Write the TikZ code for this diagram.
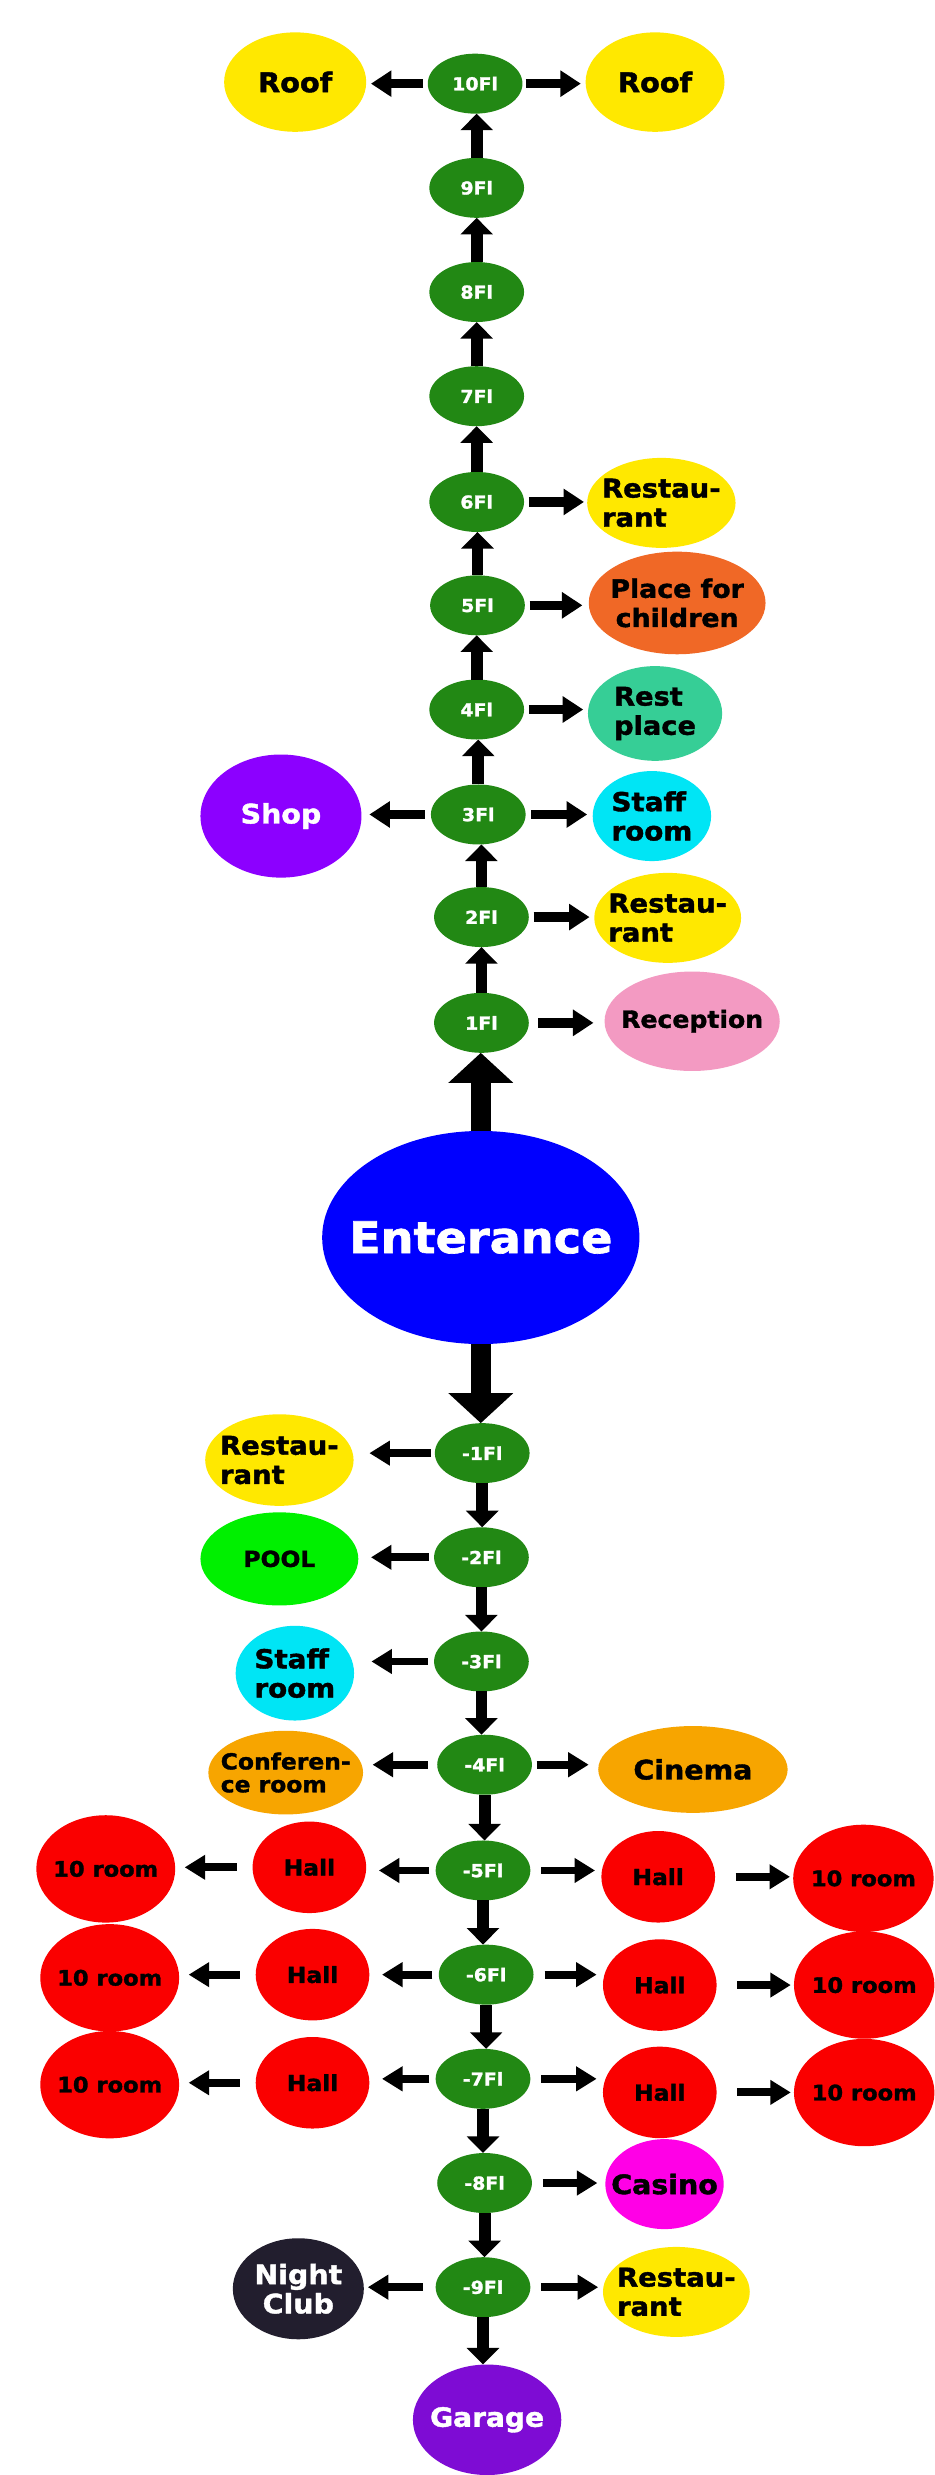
\documentclass[tikz,border=0pt]{standalone}
\usepackage{fontspec}
\newfontfamily\lbl{DejaVu Sans}[FakeStretch=1.06, FakeBold=1.5]
\usetikzlibrary{shapes.geometric,arrows.meta}
\definecolor{flgreen}{RGB}{34,136,20}
\definecolor{cyel}{RGB}{255,232,0}
\definecolor{corange}{RGB}{240,104,38}
\definecolor{cmint}{RGB}{54,206,150}
\definecolor{cviolet}{RGB}{140,0,255}
\definecolor{ccyan}{RGB}{0,229,245}
\definecolor{cpink}{RGB}{243,154,194}
\definecolor{cblue}{RGB}{0,0,255}
\definecolor{clime}{RGB}{0,240,0}
\definecolor{camber}{RGB}{247,165,0}
\definecolor{cred}{RGB}{250,0,0}
\definecolor{cmagenta}{RGB}{255,0,230}
\definecolor{cnight}{RGB}{34,30,46}
\definecolor{cgarage}{RGB}{126,12,212}
\begin{document}
\begin{tikzpicture}[x=1pt,y=-1pt,
  bub/.style={ellipse, inner sep=0pt, outer sep=0pt},
  tx/.style={font=\lbl\bfseries\fontsize{#1}{18.5}\selectfont, inner sep=0pt, align=center, text=black},
  txl/.style={font=\lbl\bfseries\fontsize{#1}{18.5}\selectfont, inner sep=0pt, align=left, text=black},
  fl/.style={bub, fill=flgreen, text=white, minimum width=60pt, minimum height=38pt,
             font=\lbl\bfseries\fontsize{11.3}{12}\selectfont},
  varr/.style={line width=7.5pt, -{Triangle[width=20pt,length=10.5pt]}},
  harr/.style={line width=6pt, -{Triangle[width=16pt,length=13pt]}},
  larr/.style={line width=5pt, -{Triangle[width=15pt,length=13pt]}},
  big/.style={line width=12.7pt, -{Triangle[width=40pt,length=19pt]}}]
\useasboundingbox[fill=white] (0,0) rectangle (592,1568);

% floors above
\node[fl] (n10) at (301,53) {10Fl};
\node[fl] (n9) at (302,119) {9Fl};
\node[fl] (n8) at (302,185) {8Fl};
\node[fl] (n7) at (302,251) {7Fl};
\node[fl] (n6) at (302,318) {6Fl};
\node[fl] (n5) at (302.5,383.5) {5Fl};
\node[fl] (n4) at (302,449.5) {4Fl};
\node[fl] (n3) at (303,516) {3Fl};
\node[fl] (n2) at (305,581) {2Fl};
\node[fl] (n1) at (305,648) {1Fl};

% entrance
\node[bub, fill=cblue, minimum width=201pt, minimum height=135pt,
      label={[tx=27.6, text=white]center:Enterance}] (ent) at (304.6,784) {};

% floors below
\node[fl] (m1) at (305.5,920.6) {-1Fl};
\node[fl] (m2) at (305,986.6) {-2Fl};
\node[fl] (m3) at (305,1052.6) {-3Fl};
\node[fl] (m4) at (307,1118) {-4Fl};
\node[fl] (m5) at (306,1185) {-5Fl};
\node[fl] (m6) at (308,1251) {-6Fl};
\node[fl] (m7) at (306,1317) {-7Fl};
\node[fl] (m8) at (307,1383) {-8Fl};
\node[fl] (m9) at (306,1449) {-9Fl};

% side rooms above
\node[bub, fill=cyel, minimum width=90pt, minimum height=63pt, label={[tx=17.2]center:Roof}] (roofL) at (187,52) {};
\node[bub, fill=cyel, minimum width=88pt, minimum height=63pt, label={[tx=17.2]center:Roof}] (roofR) at (415,52) {};
\node[bub, fill=cyel, minimum width=94pt, minimum height=57pt, label={[txl=16.4]center:{Restau-\\rant}}] (rest6) at (419,318.6) {};
\node[bub, fill=corange, minimum width=112pt, minimum height=65pt, label={[tx=16]center:{Place for\\children}}] (kids) at (429,382) {};
\node[bub, fill=cmint, minimum width=85pt, minimum height=60pt, label={[txl=16.3]center:{Rest\\place}}] (restpl) at (415,452) {};
\node[bub, fill=cviolet, minimum width=102pt, minimum height=78pt, label={[tx=17, text=white]center:Shop}] (shop) at (178,517) {};
\node[bub, fill=ccyan, minimum width=75pt, minimum height=57pt, label={[txl=16.6]center:{Staff\\room}}] (staff3) at (413,517) {};
\node[bub, fill=cyel, minimum width=93pt, minimum height=57pt, label={[txl=16.4]center:{Restau-\\rant}}] (rest2) at (423,581.5) {};
\node[bub, fill=cpink, minimum width=111pt, minimum height=63pt, label={[tx=15]center:Reception}] (recep) at (438.5,647) {};

% side rooms below
\node[bub, fill=cyel, minimum width=94pt, minimum height=58pt, label={[txl=16.4]center:{Restau-\\rant}}] (restm1) at (177,925) {};
\node[bub, fill=clime, minimum width=100pt, minimum height=59pt, label={[tx=14]center:POOL}] (pool) at (177,987.6) {};
\node[bub, fill=ccyan, minimum width=75pt, minimum height=60pt, label={[txl=16.6]center:{Staff\\room}}] (staffm3) at (186.8,1060) {};
\node[bub, fill=camber, minimum width=98pt, minimum height=53pt, label={[font=\lbl\bfseries\fontsize{14}{14.5}\selectfont, inner sep=0pt, align=left]center:{Conferen-\\ce room}}] (conf) at (181,1123) {};
\node[bub, fill=camber, minimum width=120pt, minimum height=55pt, label={[tx=17]center:Cinema}] (cinema) at (439,1121) {};

\node[bub, fill=cred, minimum width=72pt, minimum height=58pt, label={[tx=14]center:Hall}] (hallL5) at (196,1183) {};
\node[bub, fill=cred, minimum width=88pt, minimum height=68pt, label={[tx=13.5]center:10 room}] (roomL5) at (67,1184) {};
\node[bub, fill=cred, minimum width=72pt, minimum height=58pt, label={[tx=14]center:Hall}] (hallR5) at (417,1189) {};
\node[bub, fill=cred, minimum width=89pt, minimum height=68pt, label={[tx=13.5]center:10 room}] (roomR5) at (547,1190) {};

\node[bub, fill=cred, minimum width=72pt, minimum height=58pt, label={[tx=14]center:Hall}] (hallL6) at (198,1251) {};
\node[bub, fill=cred, minimum width=88pt, minimum height=68pt, label={[tx=13.5]center:10 room}] (roomL6) at (69.5,1253) {};
\node[bub, fill=cred, minimum width=72pt, minimum height=58pt, label={[tx=14]center:Hall}] (hallR6) at (418,1257.6) {};
\node[bub, fill=cred, minimum width=89pt, minimum height=68pt, label={[tx=13.5]center:10 room}] (roomR6) at (547.5,1257.6) {};

\node[bub, fill=cred, minimum width=72pt, minimum height=58pt, label={[tx=14]center:Hall}] (hallL7) at (198,1319.5) {};
\node[bub, fill=cred, minimum width=88pt, minimum height=68pt, label={[tx=13.5]center:10 room}] (roomL7) at (69.5,1320.7) {};
\node[bub, fill=cred, minimum width=72pt, minimum height=58pt, label={[tx=14]center:Hall}] (hallR7) at (418,1325.6) {};
\node[bub, fill=cred, minimum width=89pt, minimum height=68pt, label={[tx=13.5]center:10 room}] (roomR7) at (547.5,1325.7) {};

\node[bub, fill=cmagenta, minimum width=75pt, minimum height=57pt, label={[tx=17]center:Casino}] (casino) at (421,1383.7) {};
\node[bub, fill=cnight, minimum width=83pt, minimum height=64pt, label={[tx=17, text=white]center:{Night\\Club}}] (night) at (189,1450) {};
\node[bub, fill=cyel, minimum width=93pt, minimum height=57pt, label={[txl=16.4]center:{Restau-\\rant}}] (restm9) at (428.5,1452) {};
\node[bub, fill=cgarage, minimum width=94pt, minimum height=70pt, label={[tx=16.8, text=white]center:Garage}] (garage) at (308.6,1533) {};

% vertical arrows above
\foreach \a/\b in {n1/n2,n2/n3,n3/n4,n4/n5,n5/n6,n6/n7,n7/n8,n8/n9,n9/n10}
  \draw[varr] (\a.north) -- (\a.north |- \b.south);
\draw[big] (ent.north) -- (ent.north |- n1.south);
\draw[big] (ent.south) -- (ent.south |- m1.north);
\foreach \a/\b in {m1/m2,m2/m3,m3/m4,m4/m5,m5/m6,m6/m7,m7/m8,m8/m9,m9/garage}
  \draw[varr] (\a.south) -- (\a.south |- \b.north);

% horizontal arrows above
\draw[harr, shorten <=3pt, shorten >=3pt] (n10.west) -- (n10.west -| roofL.east);
\draw[harr, shorten <=2pt, shorten >=3pt] (n10.east) -- (n10.east -| roofR.west);
\draw[harr, shorten <=3pt, shorten >=2pt] (n6.east) -- (n6.east -| rest6.west);
\draw[harr, shorten <=3pt, shorten >=4pt] (n5.east) -- (n5.east -| kids.west);
\draw[harr, shorten <=3pt, shorten >=3pt] (n4.east) -- (n4.east -| restpl.west);
\draw[harr, shorten <=4pt, shorten >=5pt] (n3.west) -- (n3.west -| shop.east);
\draw[harr, shorten <=3.5pt, shorten >=3.5pt] (n3.east) -- (n3.east -| staff3.west);
\draw[harr, shorten <=3pt, shorten >=3pt] (n2.east) -- (n2.east -| rest2.west);
\draw[harr, shorten <=6pt, shorten >=7pt] (n1.east) -- (n1.east -| recep.west);

% horizontal arrows below
\draw[larr, shorten <=2.5pt, shorten >=10pt] (m1.west) -- (m1.west -| restm1.east);
\draw[larr, shorten <=3.5pt, shorten >=8pt] (m2.west) -- (m2.west -| pool.east);
\draw[larr, shorten <=4pt, shorten >=11pt] (m3.west) -- (m3.west -| staffm3.east);
\draw[larr, shorten <=6pt, shorten >=6pt] (m4.west) -- (m4.west -| conf.east);
\draw[larr, shorten <=3pt, shorten >=6pt] (m4.east) -- (m4.east -| cinema.west);
\foreach \f/\hl/\rl/\hr/\rr in {m5/hallL5/roomL5/hallR5/roomR5, m6/hallL6/roomL6/hallR6/roomR6, m7/hallL7/roomL7/hallR7/roomR7}{
  \draw[larr, shorten <=4pt, shorten >=8pt] (\f.west) -- (\f.west -| \hl.east);
  \draw[larr, shorten <=10pt, shorten >=6pt] (\hl.west) -- (\hl.west -| \rl.east);
  \draw[larr, shorten <=7pt, shorten >=4pt] (\f.east) -- (\f.east -| \hr.west);
  \draw[larr, shorten <=13pt, shorten >=2pt] (\hr.east) -- (\hr.east -| \rr.west);
}
\draw[larr, shorten <=7pt, shorten >=5pt] (m8.east) -- (m8.east -| casino.west);
\draw[larr, shorten <=8pt, shorten >=2.5pt] (m9.west) -- (m9.west -| night.east);
\draw[larr, shorten <=7pt, shorten >=3pt] (m9.east) -- (m9.east -| restm9.west);
\end{tikzpicture}
\end{document}
